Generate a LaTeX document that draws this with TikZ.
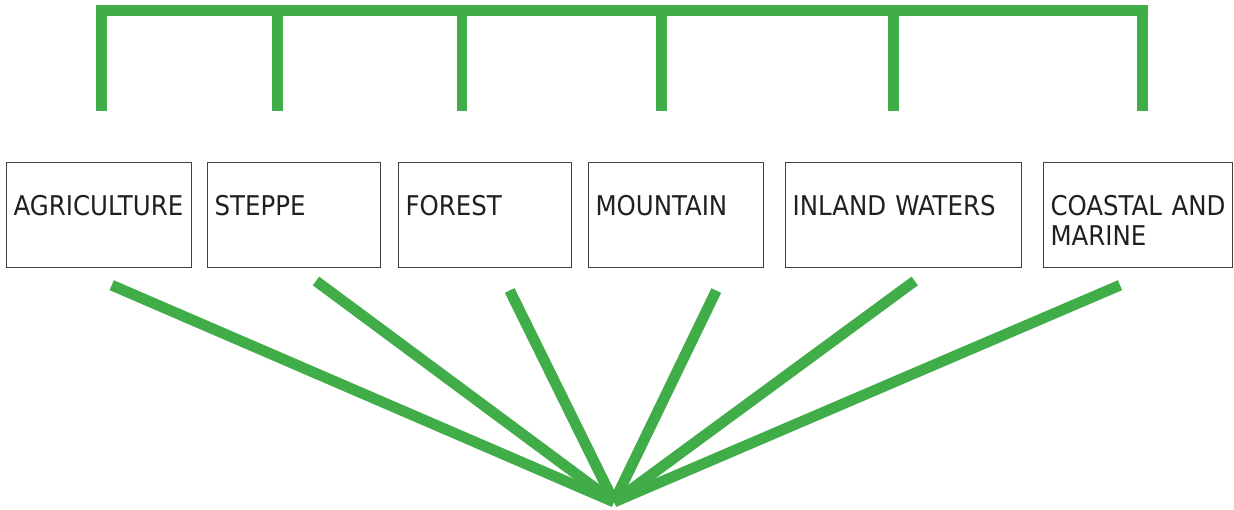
\documentclass[tikz,border=0pt]{standalone}
\usepackage{fontspec}
\setmainfont{DejaVu Sans Condensed}
\usepackage{xcolor}
\definecolor{leafgreen}{RGB}{65,173,73}
\definecolor{inkgrey}{RGB}{35,31,32}
\begin{document}
\begin{tikzpicture}[x=1pt,y=-1pt,
    zone/.style={draw=inkgrey!85,line width=1.2pt,anchor=north west,inner xsep=7pt,inner ysep=0pt,
      text height=53.3pt,text depth=51.5pt,align=left,text=inkgrey,
      font=\fontsize{27.2}{30}\selectfont},
    branch/.style={draw=leafgreen,line width=10.7pt,line join=miter},
    spoke/.style={draw=leafgreen,line width=10.8pt}]
    \useasboundingbox (0,0) rectangle (1234,509);
    \node[zone,text width=171pt](agri)at(6,161.7){AGRICULTURE};
    \node[zone,text width=159pt](steppe)at(207,161.7){STEPPE};
    \node[zone,text width=159pt](forest)at(398,161.7){FOREST};
    \node[zone,text width=161pt](mount)at(588,161.7){MOUNTAIN};
    \node[zone,text width=222pt](inland)at(785,161.7){INLAND WATERS};
    \node[zone,text width=175pt](coast)at(1043,161.7){\mbox{COASTAL\hspace{0.36em}AND}\\MARINE};
    \coordinate(b1)at(101.5,110.7);
    \coordinate(b2)at(277.5,110.7);
    \coordinate(b3)at(462,110.7);
    \coordinate(b4)at(661.5,110.7);
    \coordinate(b5)at(893.5,110.7);
    \coordinate(b6)at(1142.5,110.7);
    \coordinate(t1)at(101.5,10.7);
    \coordinate(t6)at(1142.5,10.7);
    \draw[branch] (b1) -- (t1) -- (t6) -- (b6);
    \draw[branch] (b2) -- (b2 |- t1);
    \draw[branch] (b3) -- (b3 |- t1);
    \draw[branch] (b4) -- (b4 |- t1);
    \draw[branch] (b5) -- (b5 |- t1);
    \coordinate(hub)at(614,502);
    \coordinate(s1)at(111.7,285.2);
    \coordinate(s2)at(316,281);
    \coordinate(s3)at(509.7,290.5);
    \coordinate(s4)at(716.3,290.5);
    \coordinate(s5)at(914.7,281);
    \coordinate(s6)at(1120,285.2);
    \draw[spoke] (s1) -- (hub);
    \draw[spoke] (s2) -- (hub);
    \draw[spoke] (s3) -- (hub);
    \draw[spoke] (s4) -- (hub);
    \draw[spoke] (s5) -- (hub);
    \draw[spoke] (s6) -- (hub);
\end{tikzpicture}
\end{document}
